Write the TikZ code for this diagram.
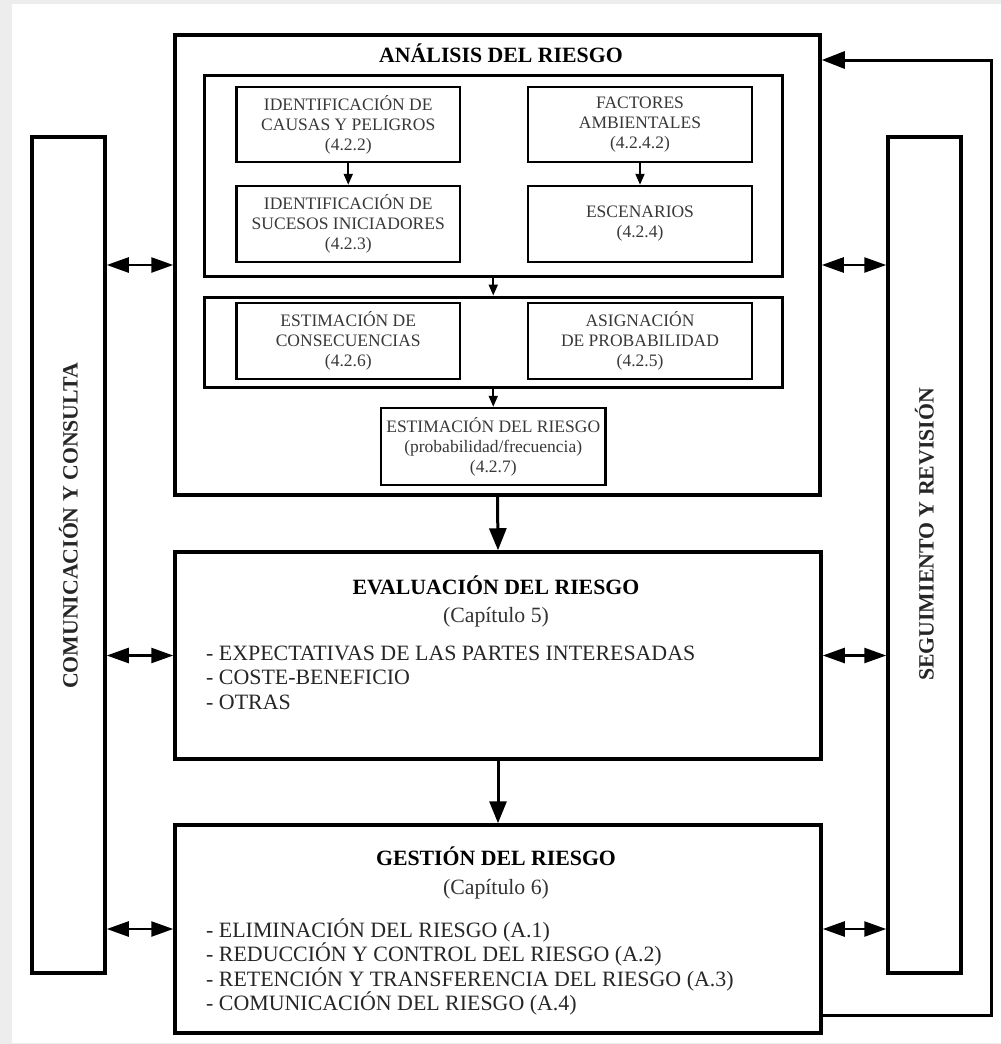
\documentclass[tikz,border=0pt]{standalone}
\usepackage{fontspec}
\setmainfont{Liberation Serif}
\usetikzlibrary{arrows.meta}
\begin{document}
\begin{tikzpicture}[x=1pt,y=-1pt,
  bigbox/.style={draw, line width=3.5pt, inner sep=0pt, rectangle},
  grpbox/.style={draw, line width=3pt, inner sep=0pt, rectangle},
  smallbox/.style={draw, line width=2.5pt, inner sep=0pt, rectangle, align=center,
    text=black!78, font=\fontsize{17.5}{20}\selectfont},
  sidebox/.style={draw, line width=3.5pt, inner sep=0pt, rectangle, minimum width=73pt, minimum height=836pt},
  sidetext/.style={rotate=90, text=black!85, font=\fontsize{21.8}{24}\selectfont\bfseries, inner sep=0pt},
  titletext/.style={font=\fontsize{21.8}{24}\selectfont\bfseries, inner sep=0pt, anchor=base},
  subtext/.style={font=\fontsize{21.8}{24}\selectfont, text=black!80, inner sep=0pt, anchor=base},
  listtext/.style={font=\fontsize{21.9}{24.5}\selectfont, text=black!85, inner sep=0pt, anchor=west, align=left},
  dbl/.style={{Triangle[length=22pt,width=15pt]}-{Triangle[length=22pt,width=15pt]}, line width=2.5pt},
  mainarrow/.style={-{Triangle[length=22pt,width=17pt]}, line width=3pt},
  smallarrow/.style={-{Triangle[length=11pt,width=9pt]}, line width=2pt},
  looparrow/.style={-{Triangle[length=23pt,width=17pt]}, line width=3pt, line join=miter}
]
% canvas
\useasboundingbox (0,0) rectangle (1001,1044);
\fill[black!7] (0,0) rectangle (1001,1044);
\fill[white] (12,4) rectangle (1001,1043);

% side columns
\node[sidebox] (lc) at (68.5,555) {};
\node[sidebox] (rc) at (924.5,555) {};
\node[sidetext] (lct) at (68.5,526) {COMUNICACIÓN Y CONSULTA};
\node[sidetext] (rct) at (924.5,534.5) {SEGUIMIENTO Y REVISIÓN};

% analysis
\node[bigbox, minimum width=645pt, minimum height=460pt] (an) at (497.5,265) {};
\node[titletext] (ant) at (501,62) {ANÁLISIS DEL RIESGO};
\node[grpbox, minimum width=577.5pt, minimum height=201pt] (g1) at (493.25,175.5) {};
\node[grpbox, minimum width=577.5pt, minimum height=90pt] (g2) at (493.25,342) {};

\node[smallbox, minimum width=223.5pt, minimum height=75pt] (b1) at (348.25,124.5)
  {IDENTIFICACIÓN DE\\CAUSAS Y PELIGROS\\(4.2.2)};
\node[smallbox, minimum width=224pt, minimum height=75pt] (b2) at (640,124.5)
  {FACTORES\\AMBIENTALES\\(4.2.4.2)};
\node[smallbox, minimum width=223.5pt, minimum height=76pt] (b3) at (348.25,224)
  {IDENTIFICACIÓN DE\\SUCESOS INICIADORES\\(4.2.3)};
\node[smallbox, minimum width=224pt, minimum height=76pt] (b4) at (640,224)
  {ESCENARIOS\\(4.2.4)};
\node[smallbox, minimum width=223.5pt, minimum height=76pt] (b5) at (348.25,341)
  {ESTIMACIÓN DE\\CONSECUENCIAS\\(4.2.6)};
\node[smallbox, minimum width=224pt, minimum height=76pt] (b6) at (640,341)
  {ASIGNACIÓN\\DE PROBABILIDAD\\(4.2.5)};
\node[smallbox, minimum width=224.5pt, minimum height=77pt] (b7) at (493.25,446.5)
  {ESTIMACIÓN DEL RIESGO\\(probabilidad/frecuencia)\\(4.2.7)};

% evaluation
\node[bigbox, minimum width=646pt, minimum height=207pt] (ev) at (498,655.5) {};
\node[titletext] (evt) at (496,594) {EVALUACIÓN DEL RIESGO};
\node[subtext] (evs) at (496,622) {(Capítulo 5)};
\node[listtext] (evl) at (206,677.5)
  {- EXPECTATIVAS DE LAS PARTES INTERESADAS\\- COSTE-BENEFICIO\\- OTRAS};

% management
\node[bigbox, minimum width=646pt, minimum height=208pt] (gs) at (498,929) {};
\node[titletext] (gst) at (496,865) {GESTIÓN DEL RIESGO};
\node[subtext] (gss) at (496,894) {(Capítulo 6)};
\node[listtext] (gsl) at (206,967)
  {- ELIMINACIÓN DEL RIESGO (A.1)\\- REDUCCIÓN Y CONTROL DEL RIESGO (A.2)\\- RETENCIÓN Y TRANSFERENCIA DEL RIESGO (A.3)\\- COMUNICACIÓN DEL RIESGO (A.4)};

% internal arrows
\draw[smallarrow] (b1.south) -- (b3.north);
\draw[smallarrow] (b2.south) -- (b4.north);
\draw[smallarrow] (g1.south) -- (g2.north);
\draw[smallarrow] (g2.south) -- (b7.north);

% main arrows
\draw[mainarrow] (an.south) -- (ev.north);
\draw[mainarrow] (ev.south) -- (gs.north);

% double arrows
\draw[dbl] (lc.east |- an.west) -- (an.west);
\draw[dbl] (lc.east |- ev.west) -- (ev.west);
\draw[dbl] (lc.east |- gs.west) -- (gs.west);
\draw[dbl] (an.east) -- (rc.west |- an.east);
\draw[dbl] (ev.east) -- (rc.west |- ev.east);
\draw[dbl] (gs.east) -- (rc.west |- gs.east);

% feedback loop
\coordinate (fbBot) at (991,1015);
\coordinate (fbTop) at (991,60);
\draw[looparrow] (gs.east |- fbBot) -- (fbBot) -- (fbTop) -- (an.east |- fbTop);
\end{tikzpicture}
\end{document}
